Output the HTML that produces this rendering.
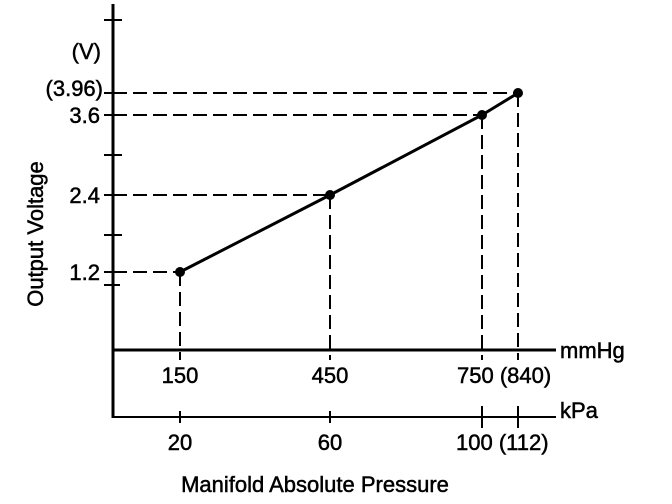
<!DOCTYPE html>
<html><head><style>body{margin:0;background:#fff}svg{display:block}text{font-family:"Liberation Sans",sans-serif;font-size:22px;fill:#000;stroke:#000;stroke-width:0.5}</style></head><body>
<svg width="672" height="504" viewBox="0 0 672 504">
<g stroke="#000" fill="none">
<line x1="113" y1="4" x2="113" y2="418" stroke-width="3"/>
<line x1="112" y1="350" x2="556" y2="350" stroke-width="3"/>
<line x1="112" y1="417" x2="556" y2="417" stroke-width="2"/>
<g stroke-width="2">
<line x1="104" y1="20" x2="122" y2="20"/><line x1="104" y1="93" x2="118" y2="93"/><line x1="104" y1="155" x2="122" y2="155"/><line x1="104" y1="235" x2="122" y2="235"/><line x1="104" y1="285" x2="120" y2="285"/>
<line x1="104" y1="115" x2="113" y2="115"/><line x1="104" y1="195" x2="113" y2="195"/><line x1="104" y1="272" x2="113" y2="272"/>
<line x1="180" y1="411" x2="180" y2="423"/><line x1="330" y1="411" x2="330" y2="423"/><line x1="482" y1="406" x2="482" y2="428"/><line x1="518" y1="406" x2="518" y2="428"/>
</g>
<g stroke-width="2" stroke-dasharray="14,6">
<line x1="113" y1="93" x2="518" y2="93"/><line x1="113" y1="115" x2="482" y2="115"/><line x1="113" y1="195" x2="330" y2="195"/><line x1="113" y1="272" x2="180" y2="272"/>
<line x1="180" y1="272" x2="180" y2="360"/><line x1="330" y1="195" x2="330" y2="360"/><line x1="482" y1="115" x2="482" y2="360"/><line x1="518" y1="93" x2="518" y2="360"/>
</g>
<polyline points="180,272 330,195 482,115 518,93" stroke-width="3"/>
</g>
<g fill="#000"><circle cx="180" cy="272" r="5"/><circle cx="330" cy="195" r="5"/><circle cx="482" cy="115" r="5"/><circle cx="518" cy="93" r="5"/></g>
<text x="101" y="59" text-anchor="end">(V)</text>
<text x="103" y="96" text-anchor="end">(3.96)</text>
<text x="100" y="123" text-anchor="end">3.6</text>
<text x="100" y="203" text-anchor="end">2.4</text>
<text x="100" y="280" text-anchor="end">1.2</text>
<text transform="translate(43,234) rotate(-90)" text-anchor="middle">Output Voltage</text>
<text x="560" y="358">mmHg</text>
<text x="560" y="418">kPa</text>
<text x="180" y="383" text-anchor="middle">150</text>
<text x="330" y="383" text-anchor="middle">450</text>
<text x="457" y="383">750 (840)</text>
<text x="180" y="450" text-anchor="middle">20</text>
<text x="330" y="450" text-anchor="middle">60</text>
<text x="456" y="450">100 (112)</text>
<text x="315" y="492" text-anchor="middle">Manifold Absolute Pressure</text>
</svg></body></html>
